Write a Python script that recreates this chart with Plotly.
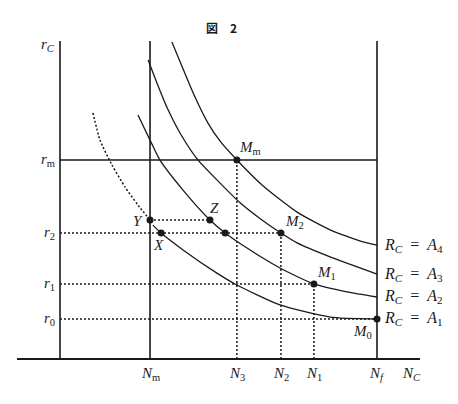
import plotly.graph_objects as go

# ---- data (N: employment, r: rate) ----
N_m, N_3, N_2, N_1, N_f, N_C = 28.4, 55.8, 69.7, 80.1, 100.0, 111.0
r_top, r_m, r_2, r_1, r_0 = 100.0, 62.6, 39.6, 23.6, 12.6
r_Y = 43.7

A1_N = [29.3, 31.9, 38.8, 49.5, 55.2, 69.4, 85.2, 100.0]
A1_r = [42.1, 39.6, 34.3, 27.0, 23.6, 17.0, 13.2, 12.6]

A2_N = [24.6, 28.7, 31.5, 38.8, 47.3, 52.1, 56.8, 69.4, 80.1, 90.5, 100.0]
A2_r = [76.7, 68.2, 62.6, 53.1, 43.7, 39.6, 36.3, 28.6, 23.6, 21.1, 19.5]

A3_N = [27.8, 30.7, 33.8, 37.9, 43.5, 50.5, 56.8, 63.7, 69.7, 74.8, 85.2, 100.0]
A3_r = [94.0, 86.5, 79.0, 71.0, 62.6, 55.3, 49.1, 43.7, 39.6, 36.5, 32.1, 26.7]

A4_N = [35.3, 38.7, 42.3, 46.5, 50.5, 55.8, 64.0, 74.8, 85.2, 95.6, 100.0]
A4_r = [99.7, 91.5, 83.0, 74.5, 68.5, 62.6, 54.5, 46.2, 40.6, 36.8, 35.8]

D_N = [10.4, 12.6, 16.4, 20.5, 24.6, 28.4]
D_r = [77.4, 68.9, 61.0, 54.1, 48.4, 43.7]

curve_labels = ["4", "3", "2", "1"]
curve_ends = [A4_r[-1], A3_r[-1], A2_r[-1], A1_r[-1]]

X_pt = (31.9, 39.6)
Y_pt = (N_m, r_Y)
Z_pt = (47.3, r_Y)
A2_r2 = (52.1, 39.6)

# ---- figure ----
ink = "#1a1a1a"
sx, sy = 3.17, 3.18
fig = go.Figure()

def line(xs, ys, dash="solid", w=1.3):
    fig.add_trace(go.Scatter(x=xs, y=ys, mode="lines", line=dict(color=ink, width=w, dash=dash, shape="spline", smoothing=0.6),
                             hoverinfo="skip", showlegend=False))

def seg(xs, ys, dash="solid", w=1.5):
    fig.add_trace(go.Scatter(x=xs, y=ys, mode="lines", line=dict(color=ink, width=w, dash=dash),
                             hoverinfo="skip", showlegend=False))

dots = "2px,2px"
# axes and frame lines
seg([-43 / sx, 360 / sx], [0, 0], w=2)
seg([0, 0], [0, r_top], w=1.6)
seg([N_m, N_m], [0, r_top], w=1.6)
seg([N_f, N_f], [0, r_top], w=1.6)
seg([0, N_f], [r_m, r_m], w=1.6)
# dotted guides
seg([0, N_2], [r_2, r_2], dash=dots)
seg([0, N_1], [r_1, r_1], dash=dots)
seg([0, N_f], [r_0, r_0], dash=dots)
seg([Y_pt[0], Z_pt[0]], [r_Y, r_Y], dash=dots)
seg([N_3, N_3], [0, r_m], dash=dots)
seg([N_2, N_2], [0, r_2], dash=dots)
seg([N_1, N_1], [0, r_1], dash=dots)
# curves
for xs, ys in [(A1_N, A1_r), (A2_N, A2_r), (A3_N, A3_r), (A4_N, A4_r)]:
    line(xs, ys)
line(D_N, D_r, dash=dots, w=1.5)

# points
px = [N_3, N_2, N_1, N_f, X_pt[0], Y_pt[0], Z_pt[0], A2_r2[0]]
py = [r_m, r_2, r_1, r_0, X_pt[1], Y_pt[1], Z_pt[1], A2_r2[1]]
fig.add_trace(go.Scatter(x=px, y=py, mode="markers", marker=dict(color=ink, size=7),
                         hoverinfo="skip", showlegend=False))

SERIF = "Liberation Serif, Times New Roman, DejaVu Serif, serif"
serif = dict(family=SERIF, size=15, color=ink)
big = dict(family=SERIF, size=16, color=ink)
ann = []
def A(x, y, text, xa="center", ya="middle", dx=0, dy=0, font=None):
    ann.append(dict(x=x, y=y, text=text, xanchor=xa, yanchor=ya, xshift=dx, yshift=dy,
                    showarrow=False, font=font if font else serif))

A(51.1, 104.1, "<b>図　2</b>", font=dict(family="Noto Sans CJK JP", size=12, color=ink))
A(0, r_top, "<i>r<sub>C</sub></i>", xa="right", ya="middle", dx=-3, dy=-4)
for v, s in [(r_m, "m"), (r_2, "2"), (r_1, "1"), (r_0, "0")]:
    A(0, v, "<i>r</i><sub>%s</sub>" % s, xa="right", dx=-3)
for v, s in [(N_m, "m"), (N_3, "3"), (N_2, "2"), (N_1, "1"), (N_f, "<i>f</i>"), (N_C, "<i>C</i>")]:
    A(v, 0, "<i>N</i><sub>%s</sub>" % s, ya="top", dy=-4)
A(N_3, r_m, "<i>M</i><sub>m</sub>", xa="left", ya="bottom", dx=0, dy=1)
A(N_2, r_2, "<i>M</i><sub>2</sub>", xa="left", ya="bottom", dx=2, dy=0)
A(N_1, r_1, "<i>M</i><sub>1</sub>", xa="left", ya="bottom", dx=1, dy=0)
A(N_f, r_0, "<i>M</i><sub>0</sub>", xa="right", ya="top", dx=-3, dy=-2)
A(X_pt[0], X_pt[1], "<i>X</i>", ya="top", dx=-3, dy=-2)
A(Y_pt[0], Y_pt[1], "<i>Y</i>", xa="right", dx=-5, dy=-1)
A(Z_pt[0], Z_pt[1], "<i>Z</i>", xa="left", ya="bottom", dx=-2, dy=2)
for s, v in zip(curve_labels, curve_ends):
    A(N_f, v, "<i>R<sub>C</sub></i>&nbsp;&nbsp;=&nbsp;&nbsp;<i>A</i><sub>%s</sub>" % s, xa="left", dx=5, font=big)

fig.update_layout(
    width=458, height=404, margin=dict(l=0, r=0, t=0, b=0),
    paper_bgcolor="white", plot_bgcolor="white",
    font=dict(family=SERIF, color=ink),
    xaxis=dict(range=[-60 / sx, 398 / sx], visible=False, fixedrange=True),
    yaxis=dict(range=[-45 / sy, 359 / sy], visible=False, fixedrange=True),
    annotations=ann, showlegend=False,
)
fig.write_html("out.html")
